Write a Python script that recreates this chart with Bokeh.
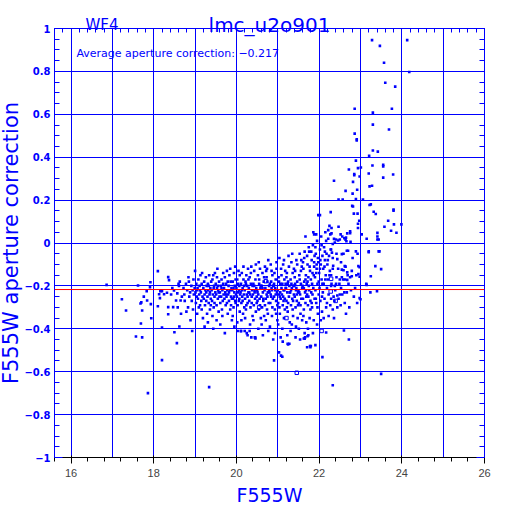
import math
from bokeh.plotting import figure
from bokeh.models import Range1d, LinearAxis, FixedTicker, Span, Label
from bokeh.embed import file_html
from bokeh.resources import INLINE

# ---------------- data (F555W magnitude, aperture correction) ----------------
bright_stars = [
    (16.86, -0.195), (17.23, -0.262), (17.33, -0.315), (17.62, -0.198), (17.57, -0.436),
    (17.72, -0.44), (17.69, -0.375), (17.86, -0.70), (17.72, -0.315), (17.76, -0.25),
    (17.68, -0.282), (17.70, -0.277), (17.84, -0.268), (17.83, -0.225), (17.92, -0.183),
    (17.91, -0.206), (17.93, -0.285), (17.94, -0.351), (18.10, -0.131), (18.20, -0.225),
    (18.13, -0.239), (18.15, -0.257), (18.10, -0.295), (18.20, -0.394), (18.20, -0.546),
    (18.35, -0.159), (18.37, -0.173), (18.25, -0.239), (18.32, -0.232), (18.35, -0.299),
    (18.35, -0.332), (18.47, -0.299), (18.54, -0.268), (18.50, -0.416), (18.56, -0.467),
    (18.60, -0.19), (18.49, -0.221), (18.62, -0.389), (18.16, -0.225), (18.18, -0.22),
    (18.61, -0.20), (18.63, -0.18), (18.57, -0.235), (18.65, -0.268), (18.42, -0.24),
    (18.45, -0.21), (18.58, -0.30), (18.66, -0.33), (18.68, -0.25),
]

band_stars = [
    (18.72, -0.21), (18.75, -0.27), (18.78, -0.19), (18.79, -0.32), (18.74, -0.24),
    (18.81, -0.22), (18.83, -0.30), (18.85, -0.18), (18.86, -0.25), (18.88, -0.23), (18.89, -0.36), (18.84, -0.16),
    (18.91, -0.20), (18.92, -0.27), (18.94, -0.22), (18.95, -0.31), (18.96, -0.17), (18.97, -0.24), (18.99, -0.21), (18.93, -0.41),
    (19.00, -0.13), (19.01, -0.23), (19.02, -0.28), (19.03, -0.19), (19.04, -0.25), (19.05, -0.33), (19.06, -0.21),
    (19.07, -0.26), (19.08, -0.17), (19.09, -0.30), (19.05, -0.22),
    (19.10, -0.24), (19.11, -0.20), (19.12, -0.29), (19.13, -0.15), (19.14, -0.23), (19.15, -0.27), (19.16, -0.19),
    (19.17, -0.14), (19.18, -0.25), (19.19, -0.35), (19.12, -0.22), (19.16, -0.31),
    (19.20, -0.21), (19.21, -0.26), (19.22, -0.18), (19.23, -0.24), (19.24, -0.29), (19.25, -0.22), (19.26, -0.16),
    (19.27, -0.27), (19.28, -0.20), (19.29, -0.33), (19.23, -0.39), (19.27, -0.23),
    (19.30, -0.25), (19.31, -0.19), (19.32, -0.22), (19.33, -0.28), (19.34, -0.15), (19.35, -0.24), (19.36, -0.31),
    (19.37, -0.21), (19.38, -0.26), (19.39, -0.18), (19.31, -0.37), (19.36, -0.23), (19.33, -0.20), (19.38, -0.29),
    (19.40, -0.22), (19.41, -0.27), (19.42, -0.17), (19.43, -0.24), (19.44, -0.15), (19.45, -0.30), (19.46, -0.20),
    (19.47, -0.25), (19.48, -0.14), (19.49, -0.23), (19.42, -0.34), (19.45, -0.21), (19.47, -0.28), (19.44, -0.40),
    (19.50, -0.19), (19.51, -0.24), (19.52, -0.29), (19.53, -0.21), (19.54, -0.12), (19.55, -0.26), (19.56, -0.22),
    (19.57, -0.32), (19.58, -0.18), (19.59, -0.25), (19.52, -0.36), (19.55, -0.20), (19.57, -0.23), (19.53, -0.16),
    (19.60, -0.23), (19.61, -0.28), (19.62, -0.20), (19.63, -0.25), (19.64, -0.17), (19.65, -0.31), (19.66, -0.22),
    (19.67, -0.27), (19.68, -0.14), (19.69, -0.24), (19.61, -0.38), (19.64, -0.21), (19.66, -0.34), (19.68, -0.19),
    (19.70, -0.21), (19.71, -0.26), (19.72, -0.16), (19.73, -0.23), (19.74, -0.29), (19.75, -0.19), (19.76, -0.25),
    (19.77, -0.13), (19.78, -0.22), (19.79, -0.33), (19.72, -0.42), (19.74, -0.24), (19.77, -0.28), (19.79, -0.18),
    (19.80, -0.24), (19.81, -0.20), (19.82, -0.27), (19.83, -0.15), (19.84, -0.22), (19.85, -0.31), (19.86, -0.18),
    (19.87, -0.25), (19.88, -0.21), (19.89, -0.36), (19.82, -0.23), (19.85, -0.12), (19.87, -0.29), (19.89, -0.26),
    (19.90, -0.22), (19.91, -0.18), (19.92, -0.26), (19.93, -0.30), (19.94, -0.14), (19.95, -0.23), (19.96, -0.20),
    (19.97, -0.27), (19.98, -0.17), (19.99, -0.24), (19.91, -0.34), (19.93, -0.21), (19.95, -0.39), (19.97, -0.11),
    (19.98, -0.28), (19.94, -0.25),
    (20.00, -0.21), (20.01, -0.25), (20.02, -0.17), (20.03, -0.29), (20.04, -0.23), (20.05, -0.13), (20.06, -0.27),
    (20.07, -0.20), (20.08, -0.32), (20.09, -0.24), (20.02, -0.37), (20.04, -0.19), (20.06, -0.22), (20.08, -0.15),
    (20.03, -0.41), (20.07, -0.26),
    (20.10, -0.23), (20.11, -0.19), (20.12, -0.28), (20.13, -0.14), (20.14, -0.25), (20.15, -0.21), (20.16, -0.33),
    (20.17, -0.17), (20.18, -0.24), (20.19, -0.30), (20.11, -0.41), (20.13, -0.22), (20.15, -0.27), (20.17, -0.11),
    (20.19, -0.20), (20.12, -0.36),
    (20.20, -0.22), (20.21, -0.26), (20.22, -0.18), (20.23, -0.31), (20.24, -0.15), (20.25, -0.24), (20.26, -0.20),
    (20.27, -0.28), (20.28, -0.12), (20.29, -0.23), (20.21, -0.35), (20.23, -0.19), (20.25, -0.42), (20.27, -0.25),
    (20.29, -0.17), (20.24, -0.29),
    (20.30, -0.21), (20.31, -0.27), (20.32, -0.16), (20.33, -0.24), (20.34, -0.30), (20.35, -0.19), (20.36, -0.11),
    (20.37, -0.25), (20.38, -0.22), (20.39, -0.34), (20.31, -0.23), (20.33, -0.38), (20.35, -0.14), (20.37, -0.28),
    (20.39, -0.20), (20.36, -0.44),
    (20.40, -0.24), (20.41, -0.19), (20.42, -0.29), (20.43, -0.13), (20.44, -0.22), (20.45, -0.26), (20.46, -0.17),
    (20.47, -0.32), (20.48, -0.21), (20.49, -0.25), (20.41, -0.36), (20.43, -0.20), (20.45, -0.44), (20.47, -0.10),
    (20.49, -0.28), (20.44, -0.23),
    (20.50, -0.22), (20.51, -0.27), (20.52, -0.15), (20.53, -0.24), (20.54, -0.31), (20.55, -0.19), (20.56, -0.26),
    (20.57, -0.12), (20.58, -0.21), (20.59, -0.35), (20.51, -0.23), (20.53, -0.40), (20.55, -0.17), (20.57, -0.29),
    (20.59, -0.20), (20.54, -0.09),
    (20.60, -0.25), (20.61, -0.20), (20.62, -0.30), (20.63, -0.14), (20.64, -0.23), (20.65, -0.27), (20.66, -0.18),
    (20.67, -0.34), (20.68, -0.22), (20.69, -0.11), (20.61, -0.38), (20.63, -0.21), (20.65, -0.26), (20.67, -0.16),
    (20.69, -0.29), (20.64, -0.43),
    (20.70, -0.21), (20.71, -0.26), (20.72, -0.13), (20.73, -0.24), (20.74, -0.31), (20.75, -0.18), (20.76, -0.23),
    (20.77, -0.08), (20.78, -0.28), (20.79, -0.20), (20.71, -0.36), (20.73, -0.16), (20.75, -0.25), (20.77, -0.41),
    (20.79, -0.22), (20.74, -0.12), (20.76, -0.33),
    (20.80, -0.23), (20.81, -0.19), (20.82, -0.28), (20.83, -0.10), (20.84, -0.25), (20.85, -0.21), (20.86, -0.34),
    (20.87, -0.15), (20.88, -0.26), (20.89, -0.20), (20.81, -0.39), (20.83, -0.24), (20.85, -0.13), (20.87, -0.30),
    (20.89, -0.45), (20.84, -0.18), (20.86, -0.22),
    (20.90, -0.20), (20.91, -0.25), (20.92, -0.14), (20.93, -0.31), (20.94, -0.22), (20.95, -0.17), (20.96, -0.27),
    (20.97, -0.09), (20.98, -0.23), (20.99, -0.36), (20.91, -0.19), (20.93, -0.42), (20.95, -0.24), (20.97, -0.12),
    (20.99, -0.29), (20.94, -0.21), (20.96, -0.33),
    (21.00, -0.22), (21.01, -0.28), (21.02, -0.16), (21.03, -0.24), (21.04, -0.07), (21.05, -0.33), (21.06, -0.19),
    (21.07, -0.26), (21.08, -0.12), (21.09, -0.21), (21.01, -0.38), (21.03, -0.18), (21.05, -0.25), (21.07, -0.44),
    (21.09, -0.15), (21.04, -0.30), (21.06, -0.23),
    (21.10, -0.24), (21.11, -0.19), (21.12, -0.29), (21.13, -0.10), (21.14, -0.22), (21.15, -0.35), (21.16, -0.17),
    (21.17, -0.26), (21.18, -0.13), (21.19, -0.21), (21.11, -0.40), (21.13, -0.25), (21.15, -0.08), (21.17, -0.31),
    (21.19, -0.19), (21.12, -0.46), (21.14, -0.27), (21.16, -0.22),
    (21.20, -0.21), (21.21, -0.27), (21.22, -0.14), (21.23, -0.23), (21.24, -0.32), (21.25, -0.18), (21.26, -0.06),
    (21.27, -0.25), (21.28, -0.20), (21.29, -0.37), (21.21, -0.16), (21.23, -0.43), (21.25, -0.28), (21.27, -0.11),
    (21.29, -0.23), (21.22, -0.30), (21.24, -0.19), (21.28, -0.47),
    (21.30, -0.23), (21.31, -0.17), (21.32, -0.29), (21.33, -0.09), (21.34, -0.21), (21.35, -0.26), (21.36, -0.14),
    (21.37, -0.34), (21.38, -0.20), (21.39, -0.24), (21.31, -0.41), (21.33, -0.19), (21.35, -0.05), (21.37, -0.27),
    (21.39, -0.12), (21.32, -0.22), (21.34, -0.38), (21.36, -0.31),
    (21.40, -0.20), (21.41, -0.25), (21.42, -0.13), (21.43, -0.30), (21.44, -0.22), (21.45, -0.08), (21.46, -0.27),
    (21.47, -0.18), (21.48, -0.35), (21.49, -0.23), (21.41, -0.16), (21.43, -0.44), (21.45, -0.21), (21.47, -0.10),
    (21.49, -0.29), (21.42, -0.19), (21.44, -0.39), (21.46, -0.24),
    (21.50, -0.22), (21.51, -0.28), (21.52, -0.15), (21.53, -0.05), (21.54, -0.24), (21.55, -0.33), (21.56, -0.19),
    (21.57, -0.26), (21.58, -0.11), (21.59, -0.21), (21.51, -0.40), (21.53, -0.17), (21.55, -0.29), (21.57, -0.08),
    (21.59, -0.36), (21.52, -0.23), (21.54, -0.45), (21.56, -0.13),
    (21.60, -0.20), (21.61, -0.26), (21.62, -0.12), (21.63, -0.31), (21.64, -0.18), (21.65, -0.04), (21.66, -0.23),
    (21.67, -0.28), (21.68, -0.15), (21.69, -0.37), (21.61, -0.09), (21.63, -0.21), (21.65, -0.42), (21.67, -0.17),
    (21.69, -0.25), (21.62, -0.34), (21.64, -0.07), (21.68, -0.22),
    (21.70, -0.19), (21.71, -0.24), (21.72, -0.10), (21.73, -0.29), (21.74, -0.16), (21.75, -0.02), (21.76, -0.22),
    (21.77, -0.35), (21.78, -0.13), (21.79, -0.27), (21.71, -0.06), (21.73, -0.40), (21.75, -0.20), (21.77, -0.11),
    (21.79, -0.31), (21.72, -0.18), (21.74, -0.25), (21.76, -0.04),
    (21.80, -0.17), (21.81, -0.23), (21.82, -0.08), (21.83, -0.30), (21.84, -0.14), (21.85, -0.01), (21.86, -0.21),
    (21.87, -0.36), (21.88, -0.11), (21.89, -0.26), (21.81, -0.04), (21.83, -0.19), (21.85, -0.42), (21.87, -0.15),
    (21.89, -0.06), (21.82, -0.28), (21.84, -0.24), (21.88, -0.09),
    (21.90, -0.16), (21.91, -0.22), (21.92, -0.05), (21.93, -0.28), (21.94, -0.12), (21.95, 0.01), (21.96, -0.19),
    (21.97, -0.33), (21.98, -0.09), (21.99, -0.24), (21.91, -0.02), (21.93, -0.14), (21.95, -0.38), (21.97, -0.07),
    (21.99, -0.18), (21.92, -0.26), (21.94, -0.10), (21.96, -0.30),
    (22.00, -0.14), (22.01, -0.21), (22.02, -0.03), (22.03, -0.27), (22.04, -0.10), (22.05, 0.03), (22.06, -0.17),
    (22.07, -0.32), (22.08, -0.06), (22.09, -0.23), (22.02, -0.12), (22.04, -0.36), (22.06, -0.01), (22.08, -0.19),
    (22.03, -0.08), (22.07, -0.25),
    (22.10, -0.12), (22.11, -0.19), (22.12, -0.02), (22.13, -0.26), (22.14, -0.08), (22.15, 0.05), (22.16, -0.15),
    (22.17, -0.30), (22.18, -0.05), (22.19, -0.21), (22.11, -0.35), (22.13, -0.11), (22.15, -0.17), (22.17, 0.01),
    (22.19, -0.28), (22.14, -0.04),
    (22.20, -0.10), (22.21, -0.17), (22.22, 0.02), (22.23, -0.24), (22.24, -0.06), (22.25, 0.08), (22.26, -0.13),
    (22.27, -0.29), (22.28, -0.03), (22.29, -0.20), (22.21, -0.08), (22.23, -0.34), (22.25, -0.15), (22.27, 0.04),
    (22.29, -0.26),
    (21.98, 0.13), (22.02, 0.13), (22.22, 0.06), (21.67, 0.03), (21.86, 0.05), (21.93, 0.04), (21.88, 0.04),
]

faint_stars = [
    (23.28, 0.946), (23.47, 0.919), (23.57, 0.84), (24.13, 0.946), (24.18, 0.797), (23.60, 0.747),
    (23.84, 0.729), (22.86, 0.626), (23.30, 0.608), (23.76, 0.626), (23.30, 0.552), (23.69, 0.529),
    (22.86, 0.51), (22.91, 0.484), (22.91, 0.478), (23.30, 0.431), (23.42, 0.426), (23.21, 0.406),
    (22.89, 0.384), (23.29, 0.361), (23.55, 0.364), (23.55, 0.357), (22.72, 0.343), (22.94, 0.349),
    (23.01, 0.352), (23.20, 0.324), (22.85, 0.322), (22.85, 0.316), (23.79, 0.319), (22.98, 0.31),
    (23.55, 0.305), (22.36, 0.29), (22.82, 0.285), (23.22, 0.264), (23.28, 0.267), (22.64, 0.243),
    (22.92, 0.248), (22.81, 0.23), (22.47, 0.203), (22.57, 0.203), (22.89, 0.205), (23.06, 0.202),
    (22.28, 0.144), (22.80, 0.173), (22.82, 0.17), (23.22, 0.177), (23.25, 0.18), (23.32, 0.146),
    (23.37, 0.135), (23.80, 0.156), (23.80, 0.151), (22.84, 0.137), (22.93, 0.137), (22.97, 0.104),
    (22.94, 0.09), (22.94, 0.07), (22.47, 0.076), (23.67, 0.104), (23.99, 0.087), (23.81, 0.087),
    (23.58, 0.076), (23.74, 0.057), (23.87, 0.048), (22.30, 0.07), (22.30, 0.045), (22.75, 0.054),
    (22.75, 0.046), (22.68, 0.045), (22.65, 0.025), (22.61, 0.022), (23.03, 0.04), (23.41, 0.047),
    (23.41, 0.03), (23.41, 0.016), (23.44, 0.016), (23.15, 0.02), (22.76, 0.006), (22.36, 0.019),
    (22.41, 0.016), (22.50, 0.016), (22.33, -0.005), (22.38, 0.002), (23.20, -0.039), (23.20, -0.043),
    (23.44, -0.039), (23.46, -0.039), (22.89, -0.039), (22.67, -0.036), (22.70, -0.036), (22.59, -0.05),
    (22.55, -0.052), (22.42, -0.05), (22.44, -0.075), (22.81, -0.07), (22.29, -0.03), (22.31, -0.045),
    (22.33, -0.07), (22.53, -0.09), (23.36, -0.108), (23.50, -0.122), (22.62, -0.108), (22.64, -0.11),
    (22.95, -0.108), (22.98, -0.113), (22.34, -0.106), (22.33, -0.12), (22.55, -0.124), (22.59, -0.127),
    (22.68, -0.137), (22.95, -0.145), (22.98, -0.157), (23.25, -0.155), (22.90, -0.15), (22.79, -0.155),
    (22.75, -0.16), (22.55, -0.16), (22.50, -0.17), (22.62, -0.17), (22.68, -0.172), (22.41, -0.19),
    (22.38, -0.20), (23.14, -0.19), (23.15, -0.195), (22.29, -0.15), (22.30, -0.19), (23.24, -0.23),
    (23.40, -0.225), (22.61, -0.23), (22.50, -0.24), (22.44, -0.245), (22.98, -0.257), (23.00, -0.262),
    (22.52, 0.04), (22.56, 0.03), (22.46, 0.012), (22.64, 0.015), (22.66, 0.008), (22.93, -0.05),
    (22.33, -0.31), (22.44, -0.30), (22.52, -0.29), (22.62, -0.28), (22.73, -0.30), (22.37, -0.27),
    (22.47, -0.26), (22.56, -0.24), (22.67, -0.23), (22.77, -0.22), (22.87, -0.21), (22.39, -0.22),
    (22.49, -0.19), (22.58, -0.17), (22.69, -0.15), (22.79, -0.13), (22.35, -0.25), (22.42, -0.16),
    (22.46, -0.12), (22.53, -0.21), (22.71, -0.19), (22.84, -0.25), (22.92, -0.28), (22.36, -0.35),
    (22.65, -0.33),
]

outlier_stars = [
    (19.34, -0.672), (20.91, -0.547), (21.03, -0.51), (21.08, -0.525), (21.11, -0.53), (21.25, -0.473),
    (21.63, -0.445), (21.66, -0.44), (21.72, -0.435), (21.74, -0.43), (21.71, -0.486), (21.78, -0.48),
    (21.79, -0.486), (21.91, -0.476), (22.17, -0.417), (22.60, -0.408), (22.72, -0.45), (22.08, -0.532),
    (22.33, -0.663), (20.11, -0.411), (20.20, -0.41), (20.27, -0.43), (20.32, -0.41), (20.45, -0.44),
    (20.46, -0.445), (23.50, -0.61), (21.65, -0.446), (21.80, -0.48), (21.24, -0.47),
]

open_stars = [
    (20.71, -0.178), (22.28, -0.226), (22.40, -0.27), (22.06, -0.41), (21.21, -0.35),
    (22.29, -0.167), (21.46, -0.605), (20.55, -0.30),
]

average_correction = -0.217

x_ticks = [16, 17, 18, 19, 20, 21, 22, 23, 24, 25, 26]
x_tick_labels = ["16", "17", "18", "19", "20", "21", "22", "23", "24", "25", "26"]
y_ticks = [-1, -0.8, -0.6, -0.4, -0.2, 0, 0.2, 0.4, 0.6, 0.8, 1]
y_tick_labels = ["\u22121", "\u22120.8", "\u22120.6", "\u22120.4", "\u22120.2", "0",
                 "0.2", "0.4", "0.6", "0.8", "1"]

# ---------------- figure ----------------
BLUE = "#0000ff"
FONT = "DejaVu Sans"

p = figure(width=512, height=524, x_range=Range1d(15.6, 26), y_range=Range1d(-1, 1),
           output_backend="svg", toolbar_location=None, title=None,
           min_border_left=62, min_border_right=20, min_border_top=48, min_border_bottom=47)
p.styles = {"margin-left": "-8px", "margin-top": "-20px"}
p.outline_line_color = BLUE
p.outline_line_width = 1
p.background_fill_color = "white"
p.border_fill_color = "white"

x_minor = [round(15.8 + 0.2 * i, 2) for i in range(52)]
y_minor = [round(-1 + 0.05 * i, 2) for i in range(41)]

top_axis = LinearAxis()
right_axis = LinearAxis()
p.add_layout(top_axis, "above")
p.add_layout(right_axis, "right")

x_over = dict(zip(x_ticks, x_tick_labels))
y_over = dict(zip(y_ticks, y_tick_labels))

for ax in [p.xaxis[0], top_axis]:
    ax.ticker = FixedTicker(ticks=x_ticks, minor_ticks=x_minor)
    ax.major_tick_in = 8
    ax.minor_tick_in = 4
for ax in [p.yaxis[0], right_axis]:
    ax.ticker = FixedTicker(ticks=y_ticks, minor_ticks=y_minor)
    ax.major_tick_in = 8
    ax.minor_tick_in = 5

for ax in [p.xaxis[0], top_axis, p.yaxis[0], right_axis]:
    ax.axis_line_color = BLUE
    ax.major_tick_line_color = BLUE
    ax.minor_tick_line_color = BLUE
    ax.major_tick_out = 0
    ax.minor_tick_out = 0
    ax.major_label_text_color = BLUE
    ax.major_label_text_font = FONT
    ax.major_label_text_font_style = "bold"
    ax.major_label_text_font_size = "10px"

p.xaxis[0].major_label_overrides = x_over
p.xaxis[0].major_label_standoff = 5
p.yaxis[0].major_label_overrides = y_over
p.yaxis[0].major_label_standoff = 4
for ax in [top_axis, right_axis]:
    ax.major_label_text_font_size = "0px"
    ax.major_label_standoff = 0
top_axis.major_label_overrides = {k: "" for k in x_ticks}
right_axis.major_label_overrides = {k: "" for k in y_ticks}

p.xgrid.ticker = FixedTicker(ticks=x_ticks[:-1])
p.ygrid.ticker = FixedTicker(ticks=y_ticks[1:-1])
for g in [p.xgrid[0], p.ygrid[0]]:
    g.grid_line_color = BLUE
    g.grid_line_width = 1
    g.grid_line_alpha = 1.0

p.add_layout(Span(location=average_correction, dimension="width", line_color="red", line_width=1))

filled = bright_stars + band_stars + faint_stars + outlier_stars
p.scatter([m for m, _ in filled], [c for _, c in filled], marker="square", size=2.6,
          fill_color=BLUE, line_color=None)
p.scatter([m for m, _ in open_stars], [c for _, c in open_stars], marker="square", size=3.5,
          fill_color=None, line_color=BLUE, line_width=1)

# ---------------- texts (side-panel labels are not clipped to the frame) ----------------
p.add_layout(Label(x=20.8, y=1.0186, text="lmc_u2o901", text_align="center",
                   text_baseline="alphabetic", text_font=FONT, text_font_size="20px",
                   text_color=BLUE), "above")
p.add_layout(Label(x=16.35, y=1.0186, text="WF4", text_align="left",
                   text_baseline="alphabetic", text_font=FONT, text_font_size="15px",
                   text_color=BLUE), "above")
p.add_layout(Label(x=16.13, y=0.883, text="Average aperture correction: \u22120.217",
                   text_align="left", text_baseline="alphabetic", text_font=FONT,
                   text_font_size="11px", text_color=BLUE))
p.add_layout(Label(x=20.8, y=-1.176, text="F555W", text_align="center",
                   text_baseline="alphabetic", text_font=FONT, text_font_size="19px",
                   text_color=BLUE), "below")
p.add_layout(Label(x=14.55, y=0.0, text="F555W aperture correction", angle=math.pi / 2,
                   text_align="center", text_baseline="middle", text_font=FONT,
                   text_font_size="21px", text_color=BLUE), "left")

open("out.html", "w").write(file_html(p, INLINE))
